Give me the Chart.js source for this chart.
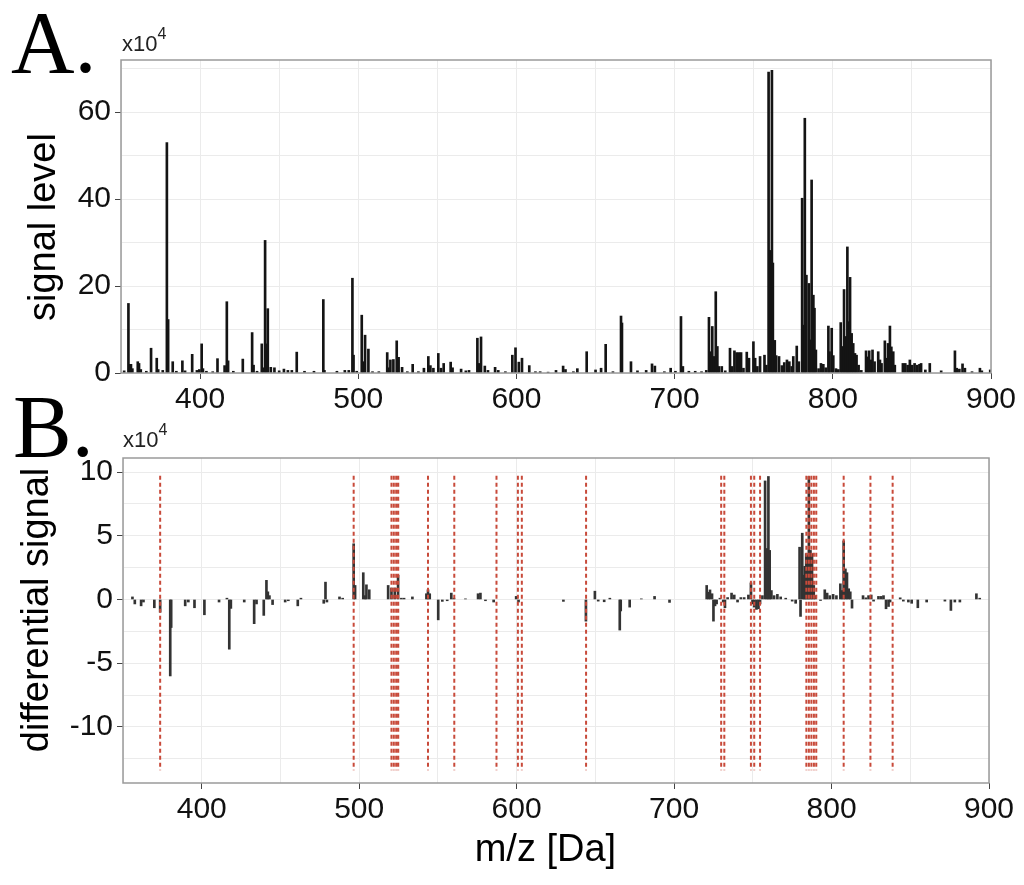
<!DOCTYPE html>
<html>
<head>
<meta charset="utf-8">
<script src="https://cdn.jsdelivr.net/npm/chart.js@4.4.1/dist/chart.umd.min.js"></script>
<style>
  body { margin: 0; background: #fff; width: 1024px; height: 885px; overflow: hidden; position: relative;
         font-family: 'Liberation Sans', Arial, sans-serif; }
  .panel { position: absolute; left: 0; width: 1024px; }
  #boxA { top: 0; height: 415px; }
  #boxB { top: 415px; height: 470px; }
  .tag { position: absolute; font-family: 'Liberation Serif', 'Times New Roman', serif; font-size: 88px; line-height: 1; color: #000; }
  .mult { position: absolute; font-size: 22px; line-height: 1; color: #222; white-space: nowrap; }
  .mult .exp { font-size: 16px; position: relative; top: -12px; }
</style>
</head>
<body>
<div class="panel" id="boxA"><canvas id="chartA"></canvas></div>
<div class="panel" id="boxB"><canvas id="chartB"></canvas></div>

<div class="tag" style="left:11px; top:-1px;">A.</div>
<div class="tag" style="left:13px; top:383px;">B.</div>
<div class="mult" style="left:122px; top:33px;">x10<span class="exp">4</span></div>
<div class="mult" style="left:123px; top:429px;">x10<span class="exp">4</span></div>

<script>
// ==================== DATOS ====================
// Panel A: espectro (m/z en Da, señal en x10^4)
const mzA = [
  352, 354.7, 355.5, 356.3, 357.2, 360.6, 361.4, 362.5, 366, 369.0,
  372.6, 373.5, 376.4, 379.0, 379.8, 382.7, 385, 388.8, 390.5, 395.0,
  398.0, 399.5, 401.0, 401.8, 404.0, 408, 411.0, 415.5, 416.9, 417.7,
  421.0, 427.0, 432.9, 433.8, 436, 439.0, 440.0, 441.1, 441.7, 442.8,
  444.7, 447.0, 450.0, 453.0, 455.5, 458.0, 461.1, 466.0, 472.0, 477.9,
  478.6, 486.5, 491.5, 494.0, 496.3, 497.0, 499.0, 502.2, 503.0, 504.3,
  506.4, 509.0, 513.0, 518.3, 519.0, 520.3, 522.2, 524.3, 525.5, 527.7,
  531, 534.4, 538, 541.5, 544.3, 545.6, 547.5, 550.6, 552.3, 554.0,
  558.4, 559.6, 565.0, 568.0, 570.0, 575.3, 576.2, 577.6, 580.0, 582.0,
  586.5, 588.5, 593, 597.4, 599.4, 601.5, 603.5, 608.1, 612.0, 615.0,
  620.0, 625.0, 629.5, 631.0, 636.0, 638.5, 644.4, 650.0, 653.5, 656.4,
  661, 666.1, 666.7, 672.4, 676.5, 682.0, 685.7, 687.5, 693.5, 697.5,
  700.5, 704.0, 705.2, 709.0, 713.0, 717, 720.0, 721.7, 722.6, 723.8,
  724.8, 726.0, 727.0, 728.0, 729.8, 732.0, 735.0, 736.3, 737.8, 739.2,
  740.7, 742.0, 743.5, 745.6, 747.0, 749.8, 750.9, 752.3, 754.0, 756.8,
  758.0, 759.4, 760.4, 761.5, 762.1, 763.3, 764.2, 766.0, 767.8, 769.3,
  771.0, 772.5, 774.0, 775.0, 777.2, 778.5, 780.6, 781.4, 782.3, 783.3,
  784.9, 785.7, 786.6, 787.7, 788.4, 789.3, 791.0, 792.5, 794.0, 795.5,
  797.2, 797.9, 799.3, 800.3, 802.0, 803.5, 805.0, 806.0, 807.1, 808.1,
  809.2, 809.8, 810.9, 811.9, 812.9, 814.0, 815.0, 816.3, 818, 821.0,
  822.1, 823.0, 824.1, 825.1, 826.4, 828.7, 829.8, 830.8, 832.9, 834.0,
  834.9, 836.1, 837.0, 838.2, 839.2, 844.3, 845.8, 847.3, 848.7, 850.2,
  851.7, 853.4, 854.8, 855.8, 858.5, 861.3, 868.5, 877.2, 878.3, 880.0,
  882.0, 883.5, 888, 893.0, 894.2, 899.5
];
const intA = [
  0.5, 16.0, 2.0, 2.0, 1.0, 2.6, 2.2, 0.8, 0.4, 5.7,
  3.4, 0.8, 0.6, 53.0, 12.3, 2.6, 0.4, 2.8, 0.5, 4.3,
  0.6, 0.8, 6.7, 1.0, 0.4, 0.3, 3.3, 1.7, 16.4, 2.8,
  0.4, 3.2, 9.3, 1.8, 0.4, 6.7, 1.2, 30.5, 6.7, 14.8,
  1.3, 1.2, 0.5, 0.9, 0.6, 0.6, 4.8, 0.4, 0.4, 16.9,
  0.6, 0.4, 0.6, 0.6, 21.8, 4.1, 0.4, 13.3, 2.6, 8.7,
  5.5, 0.3, 0.3, 4.7, 1.2, 3.0, 3.1, 7.4, 3.6, 1.3,
  0.3, 2.0, 0.3, 1.1, 3.8, 1.7, 1.1, 4.5, 1.1, 2.2,
  2.5, 1.2, 0.9, 0.5, 0.6, 8.0, 2.2, 8.3, 1.6, 0.6,
  1.3, 0.6, 0.3, 4.1, 5.8, 2.5, 3.4, 1.7, 0.3, 0.3,
  0.2, 0.6, 1.6, 0.8, 0.3, 1.0, 4.9, 0.7, 1.1, 6.6,
  0.3, 13.1, 11.5, 2.6, 0.5, 0.6, 2.1, 1.6, 0.3, 1.1,
  0.4, 13.0, 1.5, 0.4, 0.4, 0.3, 0.6, 12.8, 4.9, 10.7,
  3.8, 18.7, 6.1, 1.5, 1.5, 0.5, 5.7, 1.5, 5.1, 4.7,
  4.7, 4.7, 1.1, 4.8, 3.4, 7.2, 3.4, 1.5, 3.8, 4.1,
  1.8, 69.2, 28.2, 69.6, 25.3, 7.5, 4.0, 3.8, 1.7, 2.4,
  3.0, 2.6, 1.5, 3.8, 6.2, 2.6, 40.2, 11.0, 58.6, 22.5,
  20.6, 7.6, 44.4, 17.9, 14.9, 5.3, 1.0, 2.2, 2.0, 1.2,
  10.8, 4.9, 10.3, 4.0, 1.0, 0.8, 11.6, 6.1, 19.2, 8.4,
  29.0, 11.8, 22.0, 9.1, 6.8, 4.5, 4.1, 1.8, 0.6, 5.1,
  3.7, 5.1, 3.0, 5.3, 2.6, 4.9, 3.0, 2.2, 7.4, 3.4,
  6.8, 10.8, 6.0, 4.9, 1.8, 2.2, 2.2, 1.8, 3.0, 1.8,
  2.2, 1.8, 2.0, 2.2, 0.7, 2.2, 0.5, 5.1, 1.1, 0.9,
  2.1, 1.1, 0.3, 1.1, 0.5, 0.7
];

// Panel B: señal diferencial (x10^4)
const mzB = [
  356, 357.5, 361.5, 363, 369.9, 373.6, 380.0, 380.6, 389.5, 391.5,
  395.4, 401.7, 411, 416, 417.5, 418.5, 427, 433.3, 434.8, 439.4,
  441.1, 442.0, 443.0, 445.0, 453, 455, 461, 463, 477.5, 478.6,
  479.5, 487.5, 489.5, 496.5, 497.4, 502.6, 503.8, 504.6, 506.4, 518.4,
  520.5, 522.6, 524.7, 526.8, 528.5, 533.8, 542.7, 543.7, 544.8, 550.2,
  552.8, 555.9, 558.5, 560.2, 567.5, 575.5, 577.0, 580.2, 585.4, 599.7,
  601.2, 629.7, 644.0, 649.7, 651.8, 655.6, 659.2, 665.5, 666.1, 671.8,
  679.2, 687.6, 697.1, 720.7, 721.9, 722.8, 724.1, 725.0, 726.0, 727.0,
  729.1, 731.2, 732.3, 734.0, 736.5, 738.2, 740.3, 742.4, 744.5, 747.2,
  748.8, 749.8, 750.9, 752.3, 753.6, 754.6, 756.1, 757.8, 758.9, 759.9,
  760.7, 761.8, 763.5, 765.6, 767.7, 770.9, 775.0, 777.2, 779.7, 780.3,
  781.4, 782.4, 783.0, 783.9, 784.8, 785.6, 786.6, 787.6, 788.7, 789.8,
  793.0, 795.7, 797.2, 798.9, 801.0, 803.1, 805.6, 806.7, 807.7, 808.8,
  809.8, 810.9, 811.9, 813.0, 820.0, 821.8, 823.5, 825.2, 826.7, 829.8,
  831.5, 833.0, 834.6, 836.2, 837.2, 843.6, 845.6, 848.8, 850.9, 854.8,
  860.4, 872.0, 875.8, 878.3, 881.5, 892.0, 894.1
];
const diffB = [
  0.2, -0.35, -0.5, -0.2, -0.65, -1.0, -6.0, -2.2, -0.5, -0.2,
  -0.65, -1.2, -0.2, 0.1, -3.9, -0.7, -0.2, -1.9, -0.35, -1.25,
  1.5, 0.6, 0.3, -0.4, -0.2, -0.1, -0.5, 0.1, -0.3, 1.36,
  -0.2, 0.2, 0.1, 4.37, 1.1, 2.1, 0.3, 1.15, 0.76, 1.1,
  0.9, 0.9, 1.9, 0.1, 0.1, 0.2, 0.45, 0.76, 0.45, -1.6,
  -0.15, -0.1, 0.5, 0.1, 0.05, 0.45, 0.5, -0.1, -0.2, 0.24,
  -0.2, -0.15, -1.7, 0.65, -0.13, -0.18, 0.1, -2.4, -0.9, -0.6,
  0.05, 0.24, -0.23, 1.1, 0.57, 0.75, 0.45, -1.7, -0.5, -0.35,
  0.1, -0.2, -0.65, 0.15, 0.5, 0.35, -0.2, 0.15, 0.15, 0.35,
  1.3, -0.35, -0.6, -0.78, -0.73, -0.35, 0.3, 9.3, 4.0, 9.65,
  3.85, 0.7, 0.3, 0.4, 0.2, 0.1, -0.13, -0.3, 4.1, -1.33,
  5.2, 1.9, 2.6, 3.6, 3.45, 9.65, 3.85, 3.6, 1.1, 0.3,
  -0.08, 0.76, 0.5, 0.3, 0.4, 0.3, 1.23, 0.7, 4.6, 2.4,
  2.1, 0.84, 0.6, -0.68, 0.3, 0.13, 0.3, 0.35, -0.13, 0.24,
  0.24, 0.3, -0.73, -0.55, -0.2, 0.13, -0.13, -0.2, -0.3, -0.65,
  -0.2, -0.13, -0.86, -0.2, -0.2, 0.45, 0.1
];

// líneas rojas discontinuas (m/z marcados) y su extensión vertical
const markerMz = [
  373.6, 496.5, 520.5, 522.0, 523.5, 524.8, 543.7, 560.4, 587.2, 600.8,
  603.3, 644.1, 729.9, 731.9, 748.8, 750.9, 754.6, 784.0, 785.6, 787.2,
  788.8, 790.3, 807.7, 824.7, 838.8
];
const markerTop = 9.7;
const markerBottom = -13.4;

// ticks con etiqueta
const xLabelTicks = [400, 500, 600, 700, 800, 900];
const yLabelTicksA = [0, 20, 40, 60];
const yLabelTicksB = [-10, -5, 0, 5, 10];

// ==================== ESTILO ====================
const SANS = "'Liberation Sans', Arial, sans-serif";
const GRID = '#ebebeb';
const TICK = '#444';

const panelBorder = {
  id: 'panelBorder',
  afterDraw(chart) {
    const { ctx, chartArea: a } = chart;
    ctx.save();
    ctx.strokeStyle = '#9a9a9a';
    ctx.lineWidth = 1.5;
    ctx.strokeRect(a.left, a.top, a.right - a.left, a.bottom - a.top);
    ctx.restore();
  }
};

function tickColorFor(list) {
  return (c) => (c.tick && list.includes(c.tick.value)) ? TICK : 'rgba(0,0,0,0)';
}

function xScale(withTitle) {
  return {
    type: 'linear',
    min: 350,
    max: 900,
    offset: false,
    ticks: {
      stepSize: 50,
      includeBounds: false,
      autoSkip: false,
      maxRotation: 0,
      padding: 3,
      color: '#111',
      font: { family: SANS, size: 30 },
      callback: (v) => xLabelTicks.includes(v) ? String(v) : ''
    },
    grid: { color: GRID, offset: false, tickLength: 6, tickColor: tickColorFor(xLabelTicks) },
    border: { display: false },
    title: {
      display: withTitle,
      // espacios finales: el título del original queda algo a la izquierda del centro
      text: 'm/z [Da]  ',
      color: '#000',
      font: { family: SANS, size: 38 },
      padding: { top: 0, bottom: 12 }
    },
    afterFit: (s) => { s.height = withTitle ? 102 : 42; }
  };
}

function yScale(min, max, step, labels, title, titlePad, width) {
  return {
    type: 'linear',
    min: min,
    max: max,
    ticks: {
      stepSize: step,
      includeBounds: false,
      autoSkip: false,
      padding: 4,
      color: '#111',
      font: { family: SANS, size: 30 },
      callback: (v) => labels.includes(v) ? String(v) : ''
    },
    grid: { color: GRID, tickLength: 6, tickColor: tickColorFor(labels) },
    border: { display: false },
    title: {
      display: true,
      text: title,
      color: '#000',
      font: { family: SANS, size: 38 },
      padding: { top: titlePad, bottom: 0 }
    },
    afterFit: (s) => { s.width = width; }
  };
}

// ==================== PANEL A ====================
new Chart(document.getElementById('chartA'), {
  type: 'bar',
  data: {
    datasets: [{
      data: mzA.map((m, i) => ({ x: m, y: intA[i] })),
      backgroundColor: '#141414',
      barThickness: 2,
      borderWidth: 0
    }]
  },
  options: {
    responsive: true,
    maintainAspectRatio: false,
    animation: false,
    layout: { padding: { top: 60, right: 33, left: 0, bottom: 0 } },
    plugins: { legend: { display: false }, tooltip: { enabled: false } },
    scales: {
      x: xScale(false),
      y: yScale(0, 72, 10, yLabelTicksA, 'signal level  ', 22, 121)
    }
  },
  plugins: [panelBorder]
});

// ==================== PANEL B ====================
const markerPoints = [];
markerMz.forEach((m) => {
  markerPoints.push({ x: m, y: markerTop }, { x: m, y: markerBottom }, { x: m, y: null });
});

new Chart(document.getElementById('chartB'), {
  type: 'bar',
  data: {
    datasets: [{
      type: 'line',
      data: markerPoints,
      borderColor: '#c84a3a',
      borderWidth: 2,
      borderDash: [4, 3],
      pointRadius: 0,
      spanGaps: false,
      fill: false,
      order: 0
    }, {
      data: mzB.map((m, i) => ({ x: m, y: diffB[i] })),
      backgroundColor: '#333',
      barThickness: 2,
      borderWidth: 0,
      order: 1
    }]
  },
  options: {
    responsive: true,
    maintainAspectRatio: false,
    animation: false,
    layout: { padding: { top: 43, right: 35, left: 0, bottom: 0 } },
    plugins: { legend: { display: false }, tooltip: { enabled: false } },
    scales: {
      x: xScale(true),
      y: yScale(-14.4, 11.1, 2.5, yLabelTicksB, '  differential signal', 15, 123)
    }
  },
  plugins: [panelBorder]
});
</script>
</body>
</html>
